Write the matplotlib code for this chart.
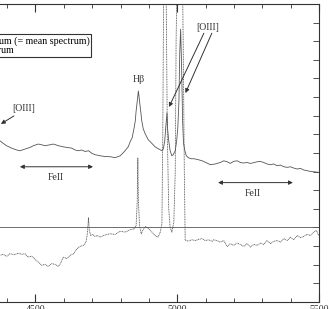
import matplotlib
matplotlib.use("Agg")
import matplotlib.pyplot as plt
from matplotlib.ticker import MultipleLocator
from matplotlib.lines import Line2D

plt.rcParams['font.family'] = ['Liberation Serif', 'DejaVu Serif']

# mean spectrum (solid)
mean_wave = [4365, 4374, 4386, 4398, 4416, 4434, 4445, 4463, 4481, 4492, 4510, 4522, 4534,
             4551, 4563, 4581, 4598, 4610, 4628, 4640, 4651, 4663, 4675, 4687, 4699,
             4710, 4728, 4746, 4763, 4781, 4799, 4816, 4827, 4834, 4841, 4848, 4852,
             4855, 4859, 4863, 4867, 4871, 4875, 4880, 4887, 4898, 4912, 4922, 4933,
             4940, 4947, 4951, 4956, 4959, 4964, 4966, 4970, 4975, 4981, 4986, 4993,
             4998, 5002, 5006, 5009, 5012, 5015, 5019, 5022, 5027, 5032, 5039, 5049,
             5060, 5074, 5088, 5102, 5117, 5134, 5152, 5164, 5176, 5187, 5199, 5211,
             5223, 5234, 5246, 5258, 5270, 5282, 5293, 5305, 5317, 5329, 5340, 5352,
             5364, 5376, 5388, 5399, 5411, 5423, 5435, 5446, 5458, 5470, 5488, 5505]
mean_flux = [4.75, 4.66, 4.52, 4.39, 4.26, 4.16, 4.12, 4.21, 4.30, 4.39, 4.48, 4.44, 4.39,
             4.44, 4.48, 4.39, 4.33, 4.30, 4.26, 4.16, 4.12, 4.16, 4.08, 4.12, 3.98,
             3.91, 3.85, 3.81, 3.80, 3.75, 3.85, 4.12, 4.33, 4.60, 4.82, 5.35, 5.72,
             6.26, 6.79, 7.33, 6.79, 6.26, 5.72, 5.30, 5.03, 4.71, 4.49, 4.33, 4.23,
             4.17, 4.12, 4.23, 4.65, 5.30, 6.15, 5.30, 4.65, 4.12, 3.85, 3.91, 4.12,
             4.65, 5.35, 6.79, 9.47, 10.65, 8.93, 5.72, 4.55, 4.12, 3.85, 3.75, 3.69,
             3.69, 3.64, 3.58, 3.48, 3.37, 3.41, 3.49, 3.58, 3.53, 3.44, 3.55, 3.58,
             3.49, 3.46, 3.49, 3.44, 3.48, 3.53, 3.55, 3.49, 3.41, 3.37, 3.41, 3.32,
             3.35, 3.26, 3.23, 3.26, 3.19, 3.14, 3.17, 3.09, 3.05, 3.01, 2.98, 2.95]

# residual spectrum (dashed)
res_wave = [4365, 4374, 4386, 4398, 4410, 4427, 4439, 4451, 4463, 4474, 4487, 4498, 4510,
            4522, 4534, 4545, 4557, 4569, 4581, 4589, 4598, 4610, 4622, 4634, 4646,
            4657, 4669, 4678, 4683, 4687, 4690, 4695, 4702, 4710, 4718, 4728, 4740,
            4752, 4763, 4781, 4799, 4816, 4834, 4849, 4855, 4859, 4861, 4863, 4867,
            4873, 4881, 4889, 4899, 4911, 4922, 4932, 4940, 4946, 4949, 4952, 4957,
            4961, 4965, 4970, 4975, 4981, 4988, 4993, 4996, 5000, 5009, 5018, 5021,
            5025, 5028, 5040, 5052, 5064, 5075, 5087, 5099, 5111, 5123, 5128, 5140,
            5152, 5164, 5176, 5187, 5199, 5211, 5223, 5234, 5246, 5258, 5270, 5282,
            5293, 5305, 5317, 5329, 5340, 5352, 5364, 5376, 5388, 5399, 5411, 5423,
            5435, 5446, 5458, 5470, 5482, 5491, 5499, 5505]
res_flux = [-1.48, -1.50, -1.44, -1.55, -1.41, -1.46, -1.37, -1.44, -1.41, -1.59, -1.54, -1.71, -1.86,
            -2.03, -1.98, -2.09, -1.94, -1.98, -2.09, -1.91, -1.59, -1.67, -1.50, -1.41, -1.14,
            -1.02, -0.96, -0.79, -0.34, 0.52, -0.16, -0.43, -0.37, -0.48, -0.43, -0.52, -0.43,
            -0.37, -0.34, -0.37, -0.20, -0.25, -0.12, -0.07, 0.11, 1.44, 3.73, 1.44, 0.11,
            -0.34, -0.07, 0.05, -0.07, -0.25, -0.43, -0.52, -0.25, 0.20, 5.0, 12.5, 19.0,
            12.5, 5.0, 1.0, 0.0, -0.25, 0.30, 3.0, 10.0, 14.0, 24.0, 14.0, 10.0,
            3.0, -0.70, -0.73, -0.66, -0.70, -0.64, -0.60, -0.70, -0.66, -0.75, -0.66, -0.70,
            -0.79, -0.70, -1.02, -0.87, -0.96, -0.84, -0.91, -1.02, -0.87, -1.05, -0.91, -0.96,
            -0.84, -0.91, -0.70, -0.87, -0.75, -0.70, -0.79, -0.60, -0.70, -0.52, -0.66, -0.43,
            -0.55, -0.48, -0.37, -0.43, -0.25, -0.16, -0.43, -0.40]

line_col = '#555555'
axis_col = '#333333'

fig = plt.figure(figsize=(3.3, 3.09), dpi=100)
ax = fig.add_axes([-0.322, 0.0227, 1.2886, 0.9644])

ax.plot(mean_wave, mean_flux, color=line_col, lw=0.6)
ax.plot(res_wave, res_flux, color=line_col, lw=0.6, ls=(0, (1.2, 0.8)))
ax.axhline(0, color=line_col, lw=0.6)

ax.set_xlim(4000, 5500)
ax.set_ylim(-4, 12)
ax.xaxis.set_major_locator(MultipleLocator(500))
ax.xaxis.set_minor_locator(MultipleLocator(100))
ax.yaxis.set_major_locator(MultipleLocator(1))
ax.tick_params(which='both', direction='in', top=True, right=True,
               color=axis_col, labelsize=7, labelcolor=axis_col, pad=2)
ax.tick_params(axis='y', labelleft=False)
ax.tick_params(axis='x', which='major', length=6, width=0.8)
ax.tick_params(axis='x', which='minor', length=3, width=0.6)
ax.tick_params(axis='y', which='major', length=4.5, width=0.6)
for s in ax.spines.values():
    s.set_color(axis_col)
    s.set_linewidth(0.8)

handles = [Line2D([], [], color=line_col, lw=0.6),
           Line2D([], [], color=line_col, lw=0.6, ls=(0, (1.2, 0.8)))]
leg = ax.legend(handles, ['Average spectrum (= mean spectrum)', 'Residual spectrum'],
                loc='upper right', bbox_to_anchor=(4697.5, 10.38),
                bbox_transform=ax.transData, borderaxespad=0, fontsize=7.2,
                fancybox=False, framealpha=1, edgecolor=axis_col,
                borderpad=0.2, labelspacing=0.05, handletextpad=0.5)
leg.get_frame().set_linewidth(0.8)

arr = dict(arrowstyle='-|>', color=axis_col, lw=0.7, mutation_scale=6,
           shrinkA=0, shrinkB=0)
dbl = dict(arrowstyle='<|-|>', color=axis_col, lw=0.7, mutation_scale=6,
           shrinkA=0, shrinkB=0)
tkw = dict(fontsize=7, color=axis_col, ha='center', va='center')

ax.text(4459, 6.37, '[OIII]', **tkw)
ax.annotate('', xy=(4378, 5.56), xytext=(4424, 5.99), arrowprops=arr)
ax.text(4865, 7.92, 'Hβ', **tkw)
ax.text(5108, 10.75, '[OIII]', **tkw)
ax.annotate('', xy=(4971, 6.47), xytext=(5094, 10.43), arrowprops=arr)
ax.annotate('', xy=(5029, 7.22), xytext=(5122, 10.43), arrowprops=arr)
ax.annotate('', xy=(4445, 3.26), xytext=(4703, 3.26), arrowprops=dbl)
ax.text(4572, 2.68, 'FeII', **tkw)
ax.annotate('', xy=(5144, 2.41), xytext=(5408, 2.41), arrowprops=dbl)
ax.text(5267, 1.82, 'FeII', **tkw)

fig.savefig('out.png', dpi=100)
